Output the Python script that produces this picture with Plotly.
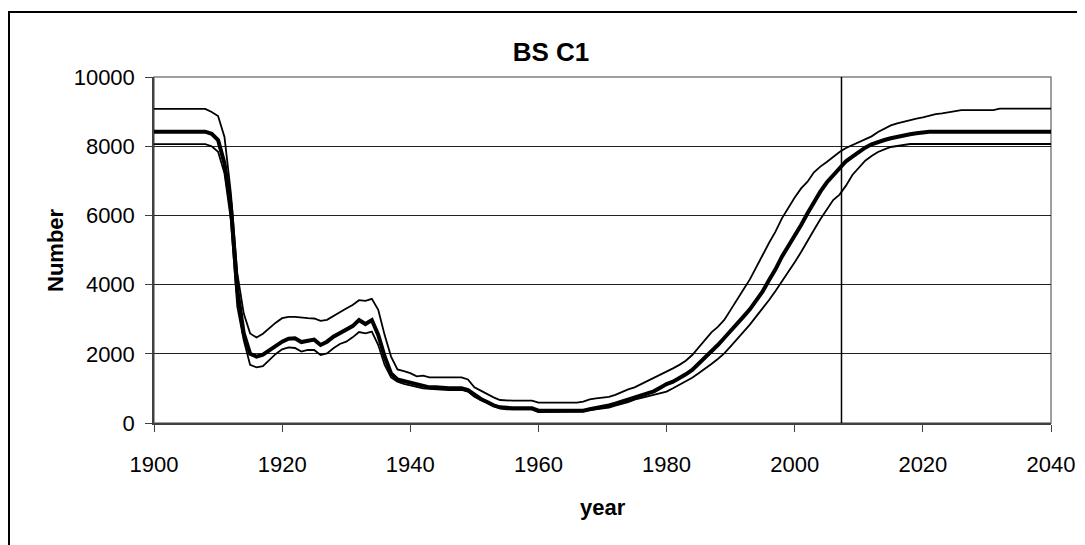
import plotly.graph_objects as go

# yearly series, 1900-2040
YEARS = list(range(1900, 2041))

UPPER = [
    9080, 9080, 9080, 9080, 9080, 9080, 9080, 9080, 9080, 8990,
    8870, 8270, 6640, 4330, 3170, 2590, 2470, 2580, 2740, 2900,
    3030, 3070, 3070, 3040, 3030, 3020, 2950, 2980, 3090, 3220,
    3310, 3410, 3550, 3530, 3590, 3270, 2540, 1920, 1550, 1500,
    1440, 1350, 1370, 1320, 1320, 1320, 1320, 1320, 1320, 1260,
    1030, 935, 830, 740, 665, 645, 645, 645, 645, 645,
    590, 590, 590, 590, 590, 590, 590, 617, 684, 713,
    725, 755, 815, 900, 970, 1030, 1120, 1200, 1290, 1380,
    1475, 1580, 1680, 1800, 1965, 2180, 2420, 2620, 2780, 2980,
    3270, 3550, 3860, 4150, 4520, 4855, 5210, 5530, 5915, 6230,
    6520, 6780, 6975, 7245, 7410, 7545, 7700, 7830, 7950, 8035,
    8130, 8210, 8285, 8410, 8500, 8600, 8660, 8710, 8760, 8800,
    8835, 8885, 8930, 8950, 8980, 9000, 9040, 9040, 9040, 9040,
    9040, 9040, 9085, 9085, 9085, 9085, 9085, 9085, 9085, 9085,
    9085,
]

MIDDLE = [
    8420, 8420, 8420, 8420, 8420, 8420, 8420, 8420, 8420, 8360,
    8180, 7500, 6250, 3850, 2600, 2000, 1920, 1975, 2110, 2235,
    2350, 2437, 2447, 2340, 2390, 2410, 2255, 2350, 2495, 2590,
    2690, 2800, 2975, 2860, 2975, 2545, 1920, 1435, 1260, 1220,
    1165, 1110, 1079, 1031, 1031, 1002, 1002, 1002, 1002, 954,
    820, 695, 607, 511, 453, 424, 424, 424, 424, 424,
    356, 356, 356, 356, 356, 356, 356, 356, 395, 424,
    465, 510, 560, 617, 670, 730, 780, 838, 915, 1020,
    1125, 1195, 1290, 1407, 1532, 1705, 1898, 2062, 2254, 2457,
    2650, 2852, 3073, 3285, 3555, 3805, 4133, 4441, 4807, 5096,
    5385, 5723, 6060, 6397, 6686, 6950, 7170, 7385, 7565, 7697,
    7842, 7958, 8054, 8131, 8179, 8228, 8276, 8304, 8343, 8372,
    8401, 8420, 8420, 8420, 8420, 8420, 8420, 8420, 8420, 8420,
    8420, 8420, 8420, 8420, 8420, 8420, 8420, 8420, 8420, 8420,
    8420,
]

LOWER = [
    8060, 8060, 8060, 8060, 8060, 8060, 8060, 8060, 8060, 8000,
    7840, 7215, 5870, 3360, 2400, 1680, 1610, 1640, 1820, 1995,
    2130, 2187, 2168, 2062, 2110, 2110, 1965, 2013, 2158, 2283,
    2350, 2476, 2630, 2592, 2640, 2254, 1676, 1320, 1195, 1130,
    1090, 1036, 1000, 985, 973, 954, 954, 954, 954, 906,
    761, 665, 568, 491, 424, 395, 395, 395, 395, 395,
    318, 318, 318, 318, 318, 318, 318, 337, 376, 395,
    410, 443, 500, 550, 600, 674, 723, 771, 819, 877,
    906, 1002, 1098, 1204, 1310, 1435, 1561, 1705, 1850, 2013,
    2216, 2418, 2620, 2842, 3083, 3314, 3555, 3815, 4085, 4364,
    4644, 4942, 5241, 5578, 5886, 6175, 6445, 6600, 6860, 7168,
    7389, 7582, 7717, 7832, 7910, 7977, 8006, 8035, 8064, 8064,
    8064, 8064, 8064, 8064, 8064, 8064, 8064, 8064, 8064, 8064,
    8064, 8064, 8064, 8064, 8064, 8064, 8064, 8064, 8064, 8064,
    8064,
]

CURRENT_YEAR = 2007.3
X_TICKS = [1900, 1920, 1940, 1960, 1980, 2000, 2020, 2040]
Y_TICKS = [0, 2000, 4000, 6000, 8000, 10000]
Y_TICK_TEXT = ["0", "2000", "4000", "6000", "8000", "10000"]

FONT = "Liberation Sans, Arial, sans-serif"

# the page body adds an 8px offset, so margins are shifted to compensate
PAGE_OFFSET = 8
PLOT_LEFT, PLOT_RIGHT, PLOT_TOP, PLOT_BOTTOM = 154, 1051, 77, 423
PLOT_W = PLOT_RIGHT - PLOT_LEFT
PLOT_H = PLOT_BOTTOM - PLOT_TOP

fig = go.Figure()

for values, width in [(UPPER, 1.8), (LOWER, 1.8), (MIDDLE, 4)]:
    fig.add_trace(
        go.Scatter(
            x=YEARS,
            y=values,
            mode="lines",
            line=dict(color="black", width=width),
            showlegend=False,
            hoverinfo="skip",
        )
    )

# vertical marker for the present year
fig.add_trace(
    go.Scatter(
        x=[CURRENT_YEAR, CURRENT_YEAR],
        y=[0, 10000],
        mode="lines",
        line=dict(color="black", width=1.5),
        showlegend=False,
        hoverinfo="skip",
    )
)

axis_font = dict(family=FONT, size=22, color="black")

fig.update_xaxes(
    range=[1900, 2040],
    tickvals=X_TICKS,
    ticks="outside",
    ticklen=7,
    tickcolor="#404040",
    tickfont=axis_font,
    ticklabelstandoff=14,
    showline=True,
    linecolor="#404040",
    linewidth=2,
    showgrid=False,
    zeroline=False,
)
fig.update_yaxes(
    range=[0, 10000],
    tickvals=Y_TICKS,
    ticktext=Y_TICK_TEXT,
    ticks="outside",
    ticklen=7,
    tickcolor="#404040",
    tickfont=axis_font,
    ticklabelstandoff=6,
    showline=True,
    linecolor="#404040",
    linewidth=1.5,
    showgrid=True,
    gridcolor="#222222",
    gridwidth=1,
    zeroline=False,
)

fig.update_layout(
    width=1085,
    height=545,
    margin=dict(
        l=PLOT_LEFT - PAGE_OFFSET,
        r=1085 - (PLOT_RIGHT - PAGE_OFFSET),
        t=PLOT_TOP - PAGE_OFFSET,
        b=545 - (PLOT_BOTTOM - PAGE_OFFSET),
        autoexpand=False,
    ),
    paper_bgcolor="white",
    plot_bgcolor="white",
    font=dict(family=FONT, color="black"),
    title=dict(
        text="<b>BS C1</b>",
        x=(551 - PAGE_OFFSET) / 1085,
        xanchor="center",
        y=1 - (52 - PAGE_OFFSET) / 545,
        yanchor="middle",
        yref="container",
        font=dict(family=FONT, size=26, color="black"),
    ),
    shapes=[
        # plot area frame (top and right edges in grey)
        dict(
            type="rect", xref="x domain", yref="y domain",
            x0=0, x1=1, y0=0, y1=1,
            line=dict(color="#808080", width=1.5), layer="below",
        ),
        # outer chart frame, running off the right and bottom edges
        dict(
            type="rect", xref="paper", yref="paper",
            x0=(9 - PLOT_LEFT) / PLOT_W, x1=1.3,
            y0=-0.6, y1=(PLOT_BOTTOM - 12) / PLOT_H,
            line=dict(color="black", width=2),
        ),
    ],
    annotations=[
        dict(
            text="<b>year</b>", xref="paper", yref="paper",
            x=0.5, y=(PLOT_BOTTOM - 508) / PLOT_H, showarrow=False,
            xanchor="center", yanchor="middle",
            font=dict(family=FONT, size=22, color="black"),
        ),
        dict(
            text="<b>Number</b>", xref="paper", yref="paper",
            x=(55 - PLOT_LEFT) / PLOT_W, y=0.5, showarrow=False,
            textangle=-90, xanchor="center", yanchor="middle",
            font=dict(family=FONT, size=22, color="black"),
        ),
    ],
)

fig.write_html("out.html")
